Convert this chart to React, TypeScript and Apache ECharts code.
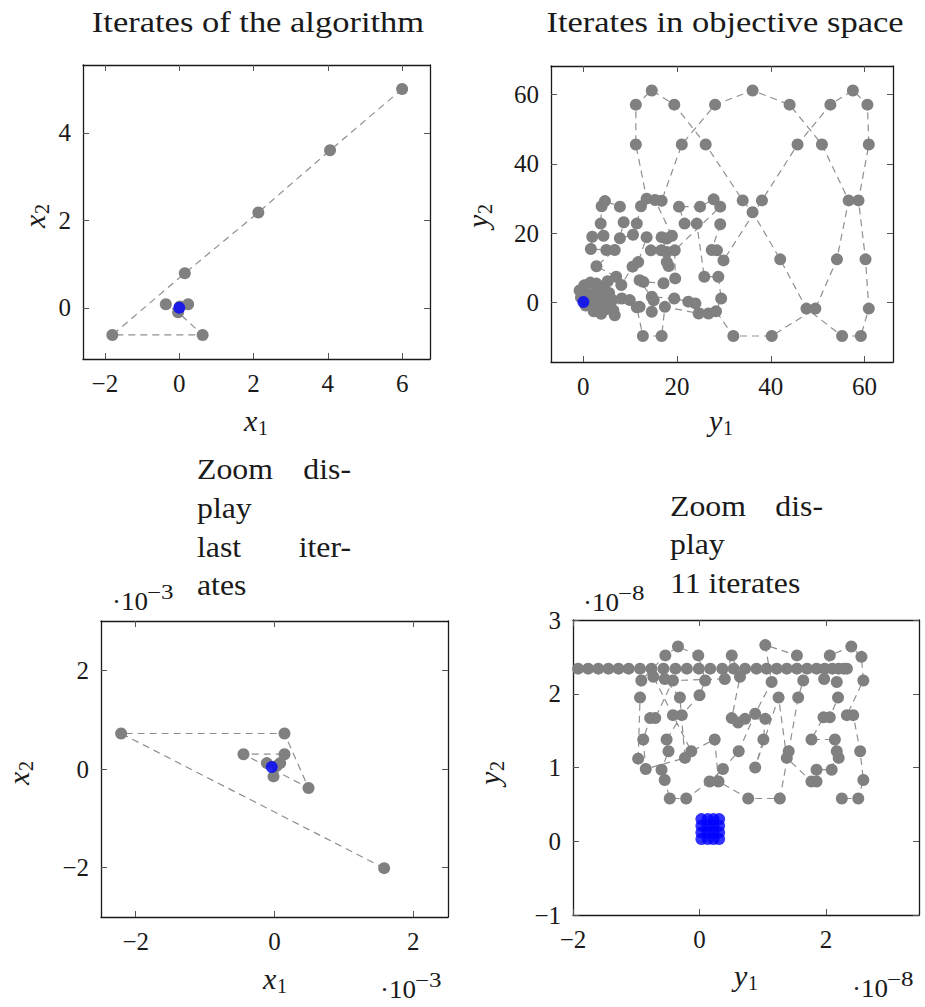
import React, { useEffect, useRef } from 'react';
import * as echarts from 'echarts';

// ---------- Panel 1: iterates of the algorithm (x1, x2) ----------
const P1_X1 = [6.0, 4.06, 2.13, 0.15, -1.8, 0.63, -0.03, -0.36, 0.24, 0.02];
const P1_X2 = [5.0, 3.6, 2.18, 0.79, -0.62, -0.62, -0.1, 0.08, 0.08, 0.03];
const P1_LAST: [number, number][] = [[0.0, 0.0]];
const P1_XTICKS = [-2, 0, 2, 4, 6];
const P1_YTICKS = [0, 2, 4];

// ---------- Panel 2: iterates in objective space (y1, y2) ----------
const P2_START: [number, number][] = [[29.2, 22.6], [27.4, 15.2], [28.5, 15.1], [29.9, 12.2]];
const P2_OUTER_1: [number, number][] = [
  [38.1, 29.5], [45.7, 45.6], [52.7, 57.1], [57.5, 61.2], [60.6, 57.1], [60.9, 45.6], [58.7, 29.5],
  [60.2, 12.5], [60.9, -1.7], [59.2, -9.6], [55.2, -9.6], [47.6, -1.7], [42.0, 12.5], [36.1, 26.1],
  [34.0, 29.5], [26.1, 45.6], [19.4, 57.1], [14.6, 61.2], [11.2, 57.1], [11.2, 45.6],
];
const P2_CLUSTER_A: [number, number][] = [
  [13.5, 30.0], [12.3, 27.8], [11.4, 22.8], [10.6, 19.6], [7.8, 18.6], [8.6, 23.2], [7.8, 27.7],
  [4.6, 29.3], [3.9, 27.8], [3.7, 22.8], [4.3, 19.3], [1.9, 19.0], [1.6, 15.5], [4.9, 15.2],
  [6.7, 15.2], [2.8, 10.5], [7.0, 7.5], [8.1, 5.1], [10.5, 10.4], [11.7, 11.7], [13.5, 18.9],
  [14.4, 15.1], [16.6, 15.1], [17.8, 11.7], [18.2, 10.6], [17.8, 14.6], [16.7, 18.9], [17.8, 18.5],
  [18.9, 19.3], [15.3, 29.6], [16.7, 29.4],
];
const P2_OUTER_2: [number, number][] = [
  [21.0, 45.6], [28.1, 57.1], [36.1, 61.2], [44.0, 57.1], [50.9, 45.6], [56.6, 29.5], [54.1, 12.5],
  [49.5, -1.7], [40.2, -9.6], [32.0, -9.6],
];
const P2_CLUSTER_B: [number, number][] = [
  [28.3, -2.5], [29.4, 1.2], [28.8, 7.5], [25.8, 7.5], [24.2, 22.8], [21.6, 22.8], [20.4, 27.7],
  [24.9, 27.7], [27.8, 29.8], [29.2, 27.7], [19.5, 15.1], [19.6, 7.0], [17.1, 5.6], [12.8, 6.0],
  [12.0, 6.5], [15.0, 0.7], [14.6, 1.7], [19.4, 1.2], [22.4, 0.3], [23.9, -0.2], [26.7, -3.1],
  [24.6, -3.1], [17.4, -1.2], [16.7, -9.6], [12.7, -9.6], [11.4, -1.3], [12.0, -1.2], [14.6, -2.6],
  [9.9, 0.75], [8.2, 1.2], [6.4, -2.2], [6.7, -3.6], [5.0, -1.8], [6.2, 0.8], [5.5, 2.8], [5.2, 6.2],
  [4.0, 4.5], [2.8, 5.5], [1.5, 5.8], [0.2, 5.0], [-0.8, 3.5], [1.0, 2.5], [2.5, 3.0], [4.0, 2.0],
  [4.5, 0.2], [3.8, -3.2], [2.2, -2.5], [3.2, -1.0], [2.0, 0.5], [-0.5, 1.5], [0.5, -0.8], [0.3, 0.4],
];
const P2_LAST: [number, number][] = [[0.0, 0.2]];
const P2_TICKS = [0, 20, 40, 60];

// ---------- Panel 3: zoom on last iterates (units of 1e-3) ----------
const P3_X1 = [1.58, -2.21, 0.144, 0.49, -0.447, 0.144, -0.014, -0.11, 0.082, 0.03];
const P3_X2 = [-2.01, 0.72, 0.72, -0.385, 0.30, 0.30, -0.15, 0.12, 0.12, 0.06];
const P3_LAST: [number, number][] = [[-0.04, 0.04]];
const P3_TICKS = [-2, 0, 2];

// ---------- Panel 4: zoom on 11 iterates in objective space (units of 1e-8) ----------
const P4_MESH: [number, number][] = [
  [-0.97, 1.12], [-0.94, 1.95], [-0.92, 2.18], [-0.54, 2.52], [-0.34, 2.64], [-0.02, 2.52], [0.09, 2.18],
  [0.0, 1.98], [-0.28, 1.71], [-0.52, 1.38], [-0.49, 1.22], [-0.6, 0.97], [-0.55, 0.83], [-0.47, 0.58],
  [-0.21, 0.58], [0.16, 0.81], [0.37, 0.98], [0.62, 1.22], [0.88, 1.73], [1.14, 2.16], [1.04, 2.66],
  [1.54, 2.52], [1.64, 2.18], [1.56, 1.95], [1.41, 1.22], [1.27, 0.58], [0.77, 0.58], [0.3, 0.81],
  [0.24, 1.38], [-0.13, 1.22], [-0.42, 1.71], [-0.73, 2.23], [-0.55, 2.2], [-0.31, 1.95], [-0.23, 1.13],
  [-0.85, 0.98], [-0.89, 1.38], [-0.78, 1.67], [-0.7, 1.67], [-0.42, 2.18], [0.4, 2.2], [0.51, 2.52],
  [0.64, 2.23], [0.51, 1.67], [0.61, 1.61], [0.72, 1.66], [1.04, 1.66], [1.01, 1.38], [0.88, 1.0],
  [1.25, 1.95], [1.38, 1.13], [1.77, 0.81], [1.85, 0.81], [1.85, 0.97], [2.09, 0.97], [2.17, 1.22],
  [2.2, 1.13], [2.14, 1.38], [1.77, 1.38], [1.96, 1.68], [2.06, 1.68], [2.19, 1.95], [2.17, 2.16],
  [1.97, 2.2], [2.06, 2.52], [2.4, 2.64], [2.56, 2.5], [2.59, 2.18], [2.33, 1.71], [2.43, 1.71],
  [2.54, 1.22], [2.59, 0.83], [2.51, 0.58], [2.25, 0.58],
];
const P4_ROW: [number, number][] = [
  [2.33, 2.34], [2.28, 2.34], [2.2, 2.34], [2.1, 2.34], [1.98, 2.34], [1.85, 2.34], [1.7, 2.34],
  [1.54, 2.34], [1.38, 2.34], [1.22, 2.34], [1.06, 2.34], [0.9, 2.34], [0.72, 2.34], [0.54, 2.34],
  [0.36, 2.34], [0.17, 2.34], [-0.01, 2.34], [-0.2, 2.34], [-0.38, 2.34], [-0.57, 2.34], [-0.76, 2.34],
  [-0.94, 2.34], [-1.12, 2.34], [-1.28, 2.34], [-1.44, 2.34], [-1.6, 2.34], [-1.76, 2.34], [-1.92, 2.34],
];
const P4_LAST: [number, number][] = [
  [0.03, 0.03], [0.13, 0.03], [0.22, 0.03], [0.31, 0.03],
  [0.03, 0.12], [0.13, 0.12], [0.22, 0.12], [0.31, 0.12],
  [0.03, 0.21], [0.13, 0.21], [0.22, 0.21], [0.31, 0.21],
  [0.03, 0.3], [0.13, 0.3], [0.22, 0.3], [0.31, 0.3],
];
const P4_XTICKS = [-2, 0, 2];
const P4_YTICKS = [-1, 0, 1, 2, 3];

const FAMILY = 'Liberation Serif';
const GRAY = '#808080';
const BLUE = '#0000ff';
const INK = '#1a1a1a';

const zip = (a: number[], b: number[]): [number, number][] => a.map((v, i) => [v, b[i]]);
const fmt = (v: number) => String(v).replace('-', '\u2212');

function axisPair(kind: 'x' | 'y', gridIndex: number, min: number, max: number, ticks: number[]) {
  const base = {
    type: 'value',
    gridIndex,
    min,
    max,
    splitLine: { show: false },
    axisLine: { show: true, onZero: false, lineStyle: { color: INK, width: 1.3 } },
  };
  const main = {
    ...base,
    position: kind === 'x' ? 'bottom' : 'left',
    axisTick: { show: true, inside: true, length: 6, customValues: ticks, lineStyle: { color: '#555', width: 1 } },
    axisLabel: {
      show: true,
      customValues: ticks,
      formatter: fmt,
      margin: 12,
      fontFamily: FAMILY,
      fontSize: 25,
      fontWeight: 'normal',
      color: INK,
    },
  };
  const mirror = {
    ...base,
    position: kind === 'x' ? 'top' : 'right',
    axisTick: { show: true, inside: true, length: 6, customValues: ticks, lineStyle: { color: '#555', width: 1 } },
    axisLabel: { show: false },
  };
  return [main, mirror];
}

function pathSeries(idx: number, data: [number, number][]) {
  return {
    type: 'line',
    xAxisIndex: idx * 2,
    yAxisIndex: idx * 2,
    data,
    z: 3,
    symbol: 'circle',
    symbolSize: 12,
    showAllSymbol: true,
    itemStyle: { color: GRAY },
    lineStyle: { color: '#8f8f8f', width: 1.2, type: [7, 5] },
    silent: true,
  };
}

function lastSeries(idx: number, data: [number, number][]) {
  return {
    type: 'scatter',
    xAxisIndex: idx * 2,
    yAxisIndex: idx * 2,
    data,
    z: 10,
    symbol: 'circle',
    symbolSize: 12,
    itemStyle: { color: BLUE },
    silent: true,
  };
}

function txt(x: number, y: number, text: string, size: number, opts: any = {}) {
  return {
    type: 'text',
    x,
    y,
    scaleX: opts.scaleX ?? 1,
    style: {
      text,
      fontFamily: FAMILY,
      fontSize: size,
      fontStyle: opts.italic ? 'italic' : 'normal',
      fill: INK,
      textAlign: opts.align ?? 'left',
      textVerticalAlign: 'middle',
    },
  };
}

function subLabel(x: number, y: number, base: string, sub: string, rotated: boolean) {
  return {
    type: 'group',
    x,
    y,
    rotation: rotated ? Math.PI / 2 : 0,
    children: [txt(0, 0, base, 30, { italic: true }), txt(14, 8, sub, 20)],
  };
}

function expLabel(x: number, y: number, exp: string) {
  return {
    type: 'group',
    x,
    y,
    children: [txt(0, 0, '\u00b710', 25, { scaleX: 1.08 }), txt(35, -10, exp, 20, { scaleX: 1.25 })],
  };
}

const option: any = {
  animation: false,
  backgroundColor: '#ffffff',
  textStyle: { fontFamily: FAMILY, fontWeight: 'normal' },
  grid: [
    { left: 83, top: 65, width: 347, height: 294 },
    { left: 551, top: 66, width: 342, height: 296 },
    { left: 101, top: 621, width: 347, height: 296 },
    { left: 573, top: 620, width: 346, height: 295 },
  ],
  xAxis: [
    ...axisPair('x', 0, -2.59, 6.75, P1_XTICKS),
    ...axisPair('x', 1, -6.9, 66.06, P2_TICKS),
    ...axisPair('x', 2, -2.5, 2.5, P3_TICKS),
    ...axisPair('x', 3, -2.0, 3.47, P4_XTICKS),
  ],
  yAxis: [
    ...axisPair('y', 0, -1.17, 5.55, P1_YTICKS),
    ...axisPair('y', 1, -17.1, 68.25, P2_TICKS),
    ...axisPair('y', 2, -3, 3, P3_TICKS),
    ...axisPair('y', 3, -1, 3, P4_YTICKS),
  ],
  series: [
    pathSeries(0, zip(P1_X1, P1_X2)),
    lastSeries(0, P1_LAST),
    pathSeries(1, [...P2_START, ...P2_OUTER_1, ...P2_CLUSTER_A, ...P2_OUTER_2, ...P2_CLUSTER_B]),
    lastSeries(1, P2_LAST),
    pathSeries(2, zip(P3_X1, P3_X2)),
    lastSeries(2, P3_LAST),
    pathSeries(3, P4_MESH),
    pathSeries(3, P4_ROW),
    lastSeries(3, P4_LAST),
  ],
  graphic: [
    txt(258, 22, 'Iterates of the algorithm', 30, { align: 'center', scaleX: 1.15 }),
    txt(725, 22, 'Iterates in objective space', 30, { align: 'center', scaleX: 1.15 }),
    subLabel(244, 420, 'x', '1', false),
    subLabel(34, 228, 'x', '2', true),
    subLabel(709, 420, 'y', '1', false),
    subLabel(477, 228, 'y', '2', true),
    subLabel(263, 978, 'x', '1', false),
    subLabel(18, 785, 'x', '2', true),
    subLabel(734, 975, 'y', '1', false),
    subLabel(489, 785, 'y', '2', true),
    // panel 3 title (justified narrow box)
    txt(197, 469, 'Zoom', 30, { scaleX: 1.06 }),
    txt(351, 469, 'dis-', 30, { align: 'right', scaleX: 1.06 }),
    txt(197, 508, 'play', 30, { scaleX: 1.06 }),
    txt(197, 547, 'last', 30, { scaleX: 1.06 }),
    txt(351, 547, 'iter-', 30, { align: 'right', scaleX: 1.06 }),
    txt(197, 585, 'ates', 30, { scaleX: 1.06 }),
    // panel 4 title
    txt(670, 506, 'Zoom', 30, { scaleX: 1.06 }),
    txt(823, 506, 'dis-', 30, { align: 'right', scaleX: 1.06 }),
    txt(670, 544, 'play', 30, { scaleX: 1.06 }),
    txt(670, 583, '11 iterates', 30, { scaleX: 1.06 }),
    expLabel(112, 602, '\u22123'),
    expLabel(380, 990, '\u22123'),
    expLabel(583, 603, '\u22128'),
    expLabel(852, 989, '\u22128'),
  ],
};

export default function App() {
  const ref = useRef<HTMLDivElement>(null);
  useEffect(() => {
    const chart = echarts.init(ref.current!, null, { renderer: 'svg' });
    chart.setOption(option);
    return () => chart.dispose();
  }, []);
  return (
    <div
      ref={ref}
      style={{ position: 'fixed', left: 0, top: 0, width: 925, height: 1007, background: '#fff' }}
    />
  );
}
